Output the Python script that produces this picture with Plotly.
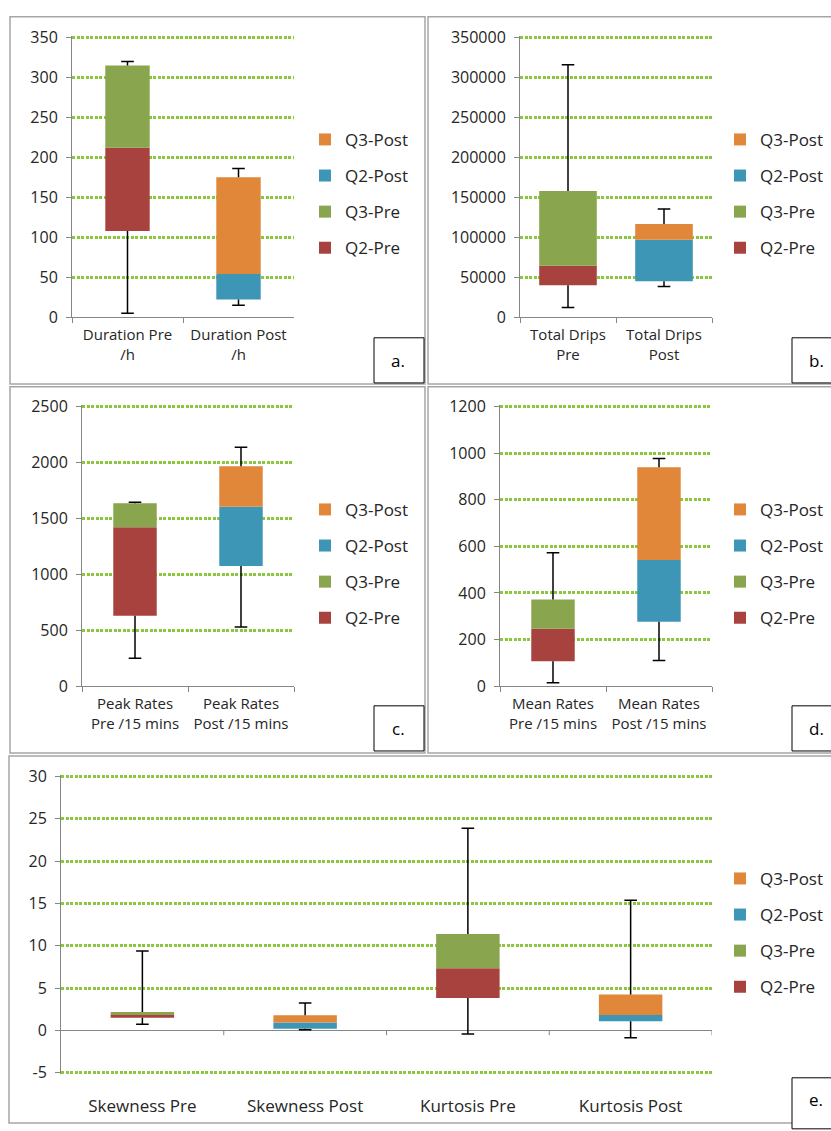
import plotly.graph_objects as go

W, H = 831, 1131

# ---------------- data ----------------
a_cats = ["Duration Pre<br>/h", "Duration Post<br>/h"]
a_phase = ["Pre", "Post"]
a_min = [5, 15]
a_q1 = [108, 22]
a_med = [212, 54]
a_q3 = [315, 175]
a_max = [320, 186]

b_cats = ["Total Drips<br>Pre", "Total Drips<br>Post"]
b_phase = ["Pre", "Post"]
b_min = [12000, 38500]
b_q1 = [40000, 45000]
b_med = [64500, 97000]
b_q3 = [158000, 116500]
b_max = [316000, 135500]

c_cats = ["Peak Rates<br>Pre /15 mins", "Peak Rates<br>Post /15 mins"]
c_phase = ["Pre", "Post"]
c_min = [250, 530]
c_q1 = [630, 1075]
c_med = [1420, 1605]
c_q3 = [1635, 1965]
c_max = [1645, 2135]

d_cats = ["Mean Rates<br>Pre /15 mins", "Mean Rates<br>Post /15 mins"]
d_phase = ["Pre", "Post"]
d_min = [15, 110]
d_q1 = [107, 277]
d_med = [247, 541]
d_q3 = [372, 939]
d_max = [573, 977]

e_cats = ["Skewness Pre", "Skewness Post", "Kurtosis Pre", "Kurtosis Post"]
e_phase = ["Pre", "Post", "Pre", "Post"]
e_min = [0.75, 0.1, -0.4, -0.85]
e_q1 = [1.5, 0.2, 3.85, 1.1]
e_med = [1.85, 0.95, 7.35, 1.85]
e_q3 = [2.2, 1.8, 11.4, 4.25]
e_max = [9.4, 3.25, 23.9, 15.4]

a_ticks = [0, 50, 100, 150, 200, 250, 300, 350]
b_ticks = [0, 50000, 100000, 150000, 200000, 250000, 300000, 350000]
c_ticks = [0, 500, 1000, 1500, 2000, 2500]
d_ticks = [0, 200, 400, 600, 800, 1000, 1200]
e_ticks = [-5, 0, 5, 10, 15, 20, 25, 30]

series_names = ["Q2-Pre", "Q3-Pre", "Q2-Post", "Q3-Post"]
legend_labels = ["Q3-Post", "Q2-Post", "Q3-Pre", "Q2-Pre"]
panel_letters = ["a.", "b.", "c.", "d.", "e."]

# ---------------- styles ----------------
COL = {"Q2-Pre": "#A8423F", "Q3-Pre": "#89A54E", "Q2-Post": "#3D96B6", "Q3-Post": "#E0873A"}
RANK = {"Q3-Post": 1, "Q2-Post": 2, "Q3-Pre": 3, "Q2-Pre": 4}
GRID = "#8CC63F"
AXC = "#868686"
TXT = "#262626"
FONT = "Open Sans"
FS = 15


def px(x):
    return x / W


def py(y):
    return 1 - y / H


panels = [
    dict(cats=a_cats, ph=a_phase, mn=a_min, q1=a_q1, md=a_med, q3=a_q3, mx=a_max, tk=a_ticks,
         dom=(72, 294, 28, 313), bw=0.4, leg=(305, 114), box=(374, 334, 424, 380)),
    dict(cats=b_cats, ph=b_phase, mn=b_min, q1=b_q1, md=b_med, q3=b_q3, mx=b_max, tk=b_ticks,
         dom=(520, 712, 28, 313), bw=0.6, leg=(720, 114), box=(792, 334, 840, 380)),
    dict(cats=c_cats, ph=c_phase, mn=c_min, q1=c_q1, md=c_med, q3=c_q3, mx=c_max, tk=c_ticks,
         dom=(82, 294, 404, 689), bw=0.41, leg=(305, 491), box=(374, 709, 424, 755)),
    dict(cats=d_cats, ph=d_phase, mn=d_min, q1=d_q1, md=d_med, q3=d_q3, mx=d_max, tk=d_ticks,
         dom=(500, 712, 404, 689), bw=0.41, leg=(720, 491), box=(792, 709, 840, 755)),
    dict(cats=e_cats, ph=e_phase, mn=e_min, q1=e_q1, md=e_med, q3=e_q3, mx=e_max, tk=e_ticks,
         dom=(61, 712, 781, 1083), bw=0.39, leg=(720, 867), box=(792, 1088, 840, 1140)),
]

fig = go.Figure()
layout = {}
shapes = []
annotations = []

for i, p in enumerate(panels):
    n = i + 1
    xa = "x" if n == 1 else f"x{n}"
    ya = "y" if n == 1 else f"y{n}"
    lg = "legend" if n == 1 else f"legend{n}"
    cats = p["cats"]
    for sname in series_names:
        phase = "Pre" if sname.endswith("Pre") else "Post"
        idx = [k for k in range(len(cats)) if p["ph"][k] == phase]
        xs = [cats[k] for k in idx]
        if sname.startswith("Q2"):
            base = [p["q1"][k] for k in idx]
            ys = [p["md"][k] - p["q1"][k] for k in idx]
        else:
            base = [p["md"][k] for k in idx]
            ys = [p["q3"][k] - p["md"][k] for k in idx]
        fig.add_trace(go.Bar(
            x=xs, y=ys, base=base, name=sname, width=p["bw"],
            marker=dict(color=COL[sname], line=dict(width=0)),
            xaxis=xa, yaxis=ya, legend=lg, legendrank=RANK[sname],
            legendgroup=f"{n}{sname}", hoverinfo="skip"))
    # whiskers
    wx, wy = [], []
    for k, c in enumerate(cats):
        wx += [c, c, None, c, c, None]
        wy += [p["q3"][k], p["mx"][k], None, p["q1"][k], p["mn"][k], None]
    fig.add_trace(go.Scatter(x=wx, y=wy, mode="lines", line=dict(color="black", width=1.5),
                             xaxis=xa, yaxis=ya, showlegend=False, hoverinfo="skip"))
    fig.add_trace(go.Scatter(x=cats + cats, y=p["mx"] + p["mn"], mode="markers",
                             marker=dict(symbol="line-ew", size=9, line=dict(color="black", width=1.5)),
                             xaxis=xa, yaxis=ya, showlegend=False, hoverinfo="skip"))

    x0, x1, y0, y1 = p["dom"]
    is_e = (n == 5)
    tk = p["tk"]
    lo, hi = tk[0], tk[-1]
    pad = (hi - lo) / (y1 - y0) * 1.5  # 1.5 px of slack so edge gridlines are drawn
    rlo = lo - pad if is_e else lo
    dom_bot = y1 + 1.5 if is_e else y1
    layout[f"xaxis{'' if n == 1 else n}"] = dict(
        domain=[px(x0), px(x1)], anchor=ya, type="category",
        categoryorder="array", categoryarray=cats, range=[-0.5, len(cats) - 0.5],
        showline=not is_e, linecolor=AXC, linewidth=1,
        ticks="" if is_e else "outside", tickson="boundaries", ticklen=5, tickcolor=AXC,
        showgrid=False, zeroline=False,
        tickfont=dict(family=FONT, size=17 if is_e else FS, color=TXT),
        ticklabelstandoff=20 if is_e else 4,
    )
    layout[f"yaxis{'' if n == 1 else n}"] = dict(
        domain=[py(dom_bot), py(y0 - 1.5)], anchor=xa, range=[rlo, hi + pad],
        tickmode="array", tickvals=tk, ticktext=[str(v) for v in tk],
        showline=True, linecolor=AXC, linewidth=1,
        ticks="outside", ticklen=5, tickcolor=AXC,
        showgrid=True, gridcolor=GRID, gridwidth=3, griddash="3px,1.5px",
        zeroline=True, zerolinecolor=AXC, zerolinewidth=1,
        tickfont=dict(family=FONT, size=16, color=TXT), ticklabelstandoff=5,
    )
    lx, ly = p["leg"]
    layout[lg] = dict(x=px(lx), y=py(ly), xanchor="left", yanchor="top",
                      bgcolor="rgba(0,0,0,0)", font=dict(family=FONT, size=17, color=TXT),
                      tracegroupgap=11, itemsizing="constant")
    # panel label box
    bx0, by0, bx1, by1 = p["box"]
    shapes.append(dict(type="rect", xref="paper", yref="paper", x0=px(bx0), x1=px(bx1),
                       y0=py(by1), y1=py(by0), line=dict(color="black", width=1),
                       fillcolor="white", layer="above"))
    annotations.append(dict(xref="paper", yref="paper", x=px(bx0 + 24), y=py((by0 + by1) / 2 if n < 5 else 1110),
                            text=panel_letters[i], showarrow=False, xanchor="center", yanchor="middle",
                            font=dict(family=FONT, size=17, color="black")))

# tick marks on the zero line of panel e at category boundaries
for b in [0.5, 1.5, 2.5, 3.5]:
    shapes.append(dict(type="line", xref="x5", yref="y5", x0=b, x1=b, y0=0, y1=-0.55,
                       line=dict(color=AXC, width=1)))

# panel frames
for (fx0, fy0, fx1, fy1) in [(10, 7, 425, 381), (428, 7, 834, 381), (10, 384, 425, 757),
                             (428, 384, 834, 757), (9, 760, 834, 1134)]:
    shapes.append(dict(type="rect", xref="paper", yref="paper", x0=px(fx0), x1=px(fx1),
                       y0=py(fy1), y1=py(fy0), line=dict(color="#A6A6A6", width=1.5), layer="below"))

fig.update_layout(
    width=W, height=H, margin=dict(l=0, r=0, t=0, b=0),
    paper_bgcolor="white", plot_bgcolor="white",
    barmode="overlay", shapes=shapes, annotations=annotations,
    font=dict(family=FONT, size=FS, color=TXT),
    **layout,
)

fig.write_html("out.html", config={"displayModeBar": False},
               post_script="document.body.style.margin='0';document.body.style.overflow='hidden';")
